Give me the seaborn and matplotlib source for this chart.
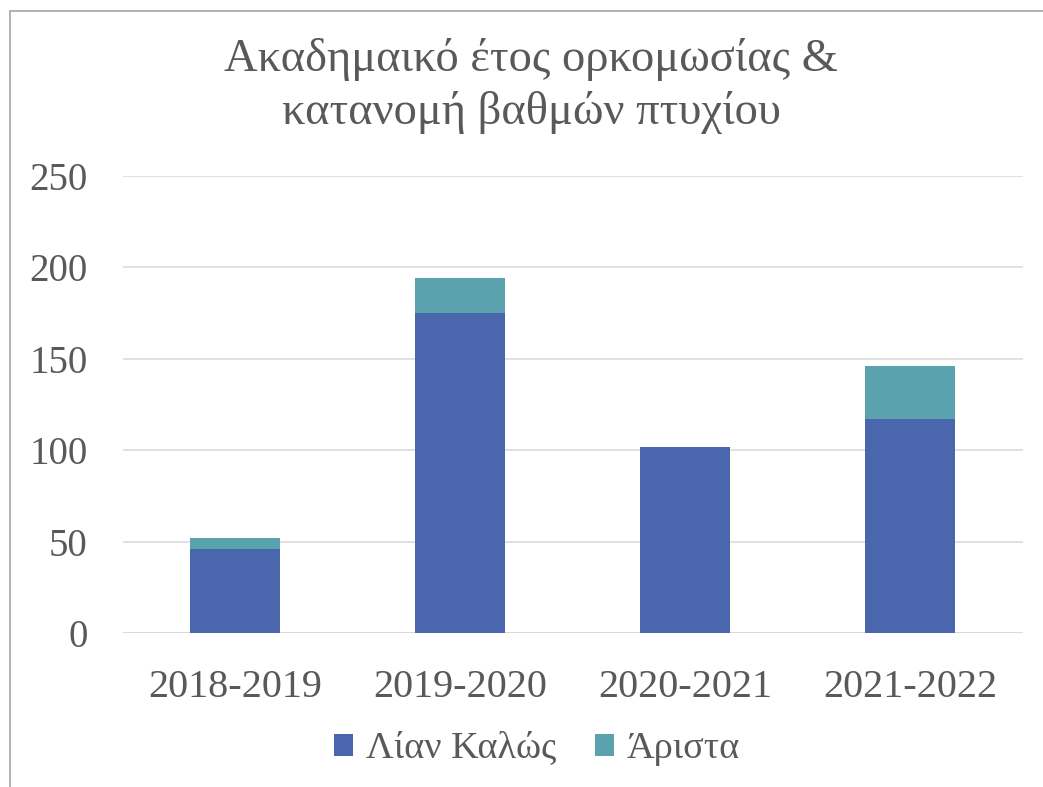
import matplotlib
matplotlib.use("Agg")
import matplotlib.pyplot as plt
import seaborn as sns
import pandas as pd
from matplotlib.patches import Patch, Rectangle

# Data
years = ["2018-2019", "2019-2020", "2020-2021", "2021-2022"]
lian_kalos = [46, 175, 102, 117]
arista = [6, 19, 0, 29]
series_names = ["Λίαν Καλώς", "Άριστα"]
title_text = "Ακαδημαικό έτος ορκομωσίας &\nκατανομή βαθμών πτυχίου"
yticks = [0, 50, 100, 150, 200, 250]

sns.set_style("white")
plt.rcParams["font.family"] = ["Liberation Serif", "DejaVu Serif"]

BLUE = "#4A66AC"
TEAL = "#5AA2AE"
TXT = "#595959"
GRID = "#D9D9D9"

W, H = 1043, 787
fig = plt.figure(figsize=(W / 100, H / 100), dpi=100)
ax = fig.add_axes([122.5 / W, 1 - 633.3 / H, 900 / W, (633.3 - 175.7) / H])

df = pd.DataFrame({"year": years, "lk": lian_kalos, "ar": arista})
df["total"] = df["lk"] + df["ar"]

sns.barplot(data=df, x="year", y="total", color=TEAL, width=0.4, ax=ax,
            saturation=1, linewidth=0, zorder=3)
sns.barplot(data=df, x="year", y="lk", color=BLUE, width=0.4, ax=ax,
            saturation=1, linewidth=0, zorder=3)

ax.set_xlim(-0.5, 3.5)
ax.set_ylim(0, 250)
ax.set_yticks(yticks)
ax.set_yticklabels([str(v) for v in yticks])
ax.set_xlabel("")
ax.set_ylabel("")
ax.yaxis.grid(True, color=GRID, linewidth=1.1, zorder=0)
ax.set_axisbelow(True)
for s in ax.spines.values():
    s.set_visible(False)
ax.axhline(0, color=GRID, linewidth=1.1, zorder=1)
ax.tick_params(axis="y", length=0, pad=25, labelsize=28, labelcolor=TXT)
ax.tick_params(axis="x", length=0, pad=26, labelsize=29, labelcolor=TXT)

fig.text(531 / W, 1 - 86 / H, title_text, ha="center", va="center",
         fontsize=33.5, color=TXT, linespacing=1.32)

handles = [Patch(facecolor=BLUE, edgecolor="none"),
           Patch(facecolor=TEAL, edgecolor="none")]
fig.legend(handles, series_names, loc="center",
           bbox_to_anchor=(537 / W, 1 - 749 / H), ncol=2, frameon=False,
           fontsize=27.5, labelcolor=TXT, handlelength=0.5, handleheight=0.5,
           handletextpad=0.35, columnspacing=1.0, borderpad=0)

fig.patches.append(Rectangle((10 / W, -0.05), 1.2, 1 - 11 / H + 0.05,
                             transform=fig.transFigure, fill=False,
                             edgecolor="#A6A6A6", linewidth=1.2, zorder=10))

fig.savefig("out.png", dpi=100, facecolor="white")
